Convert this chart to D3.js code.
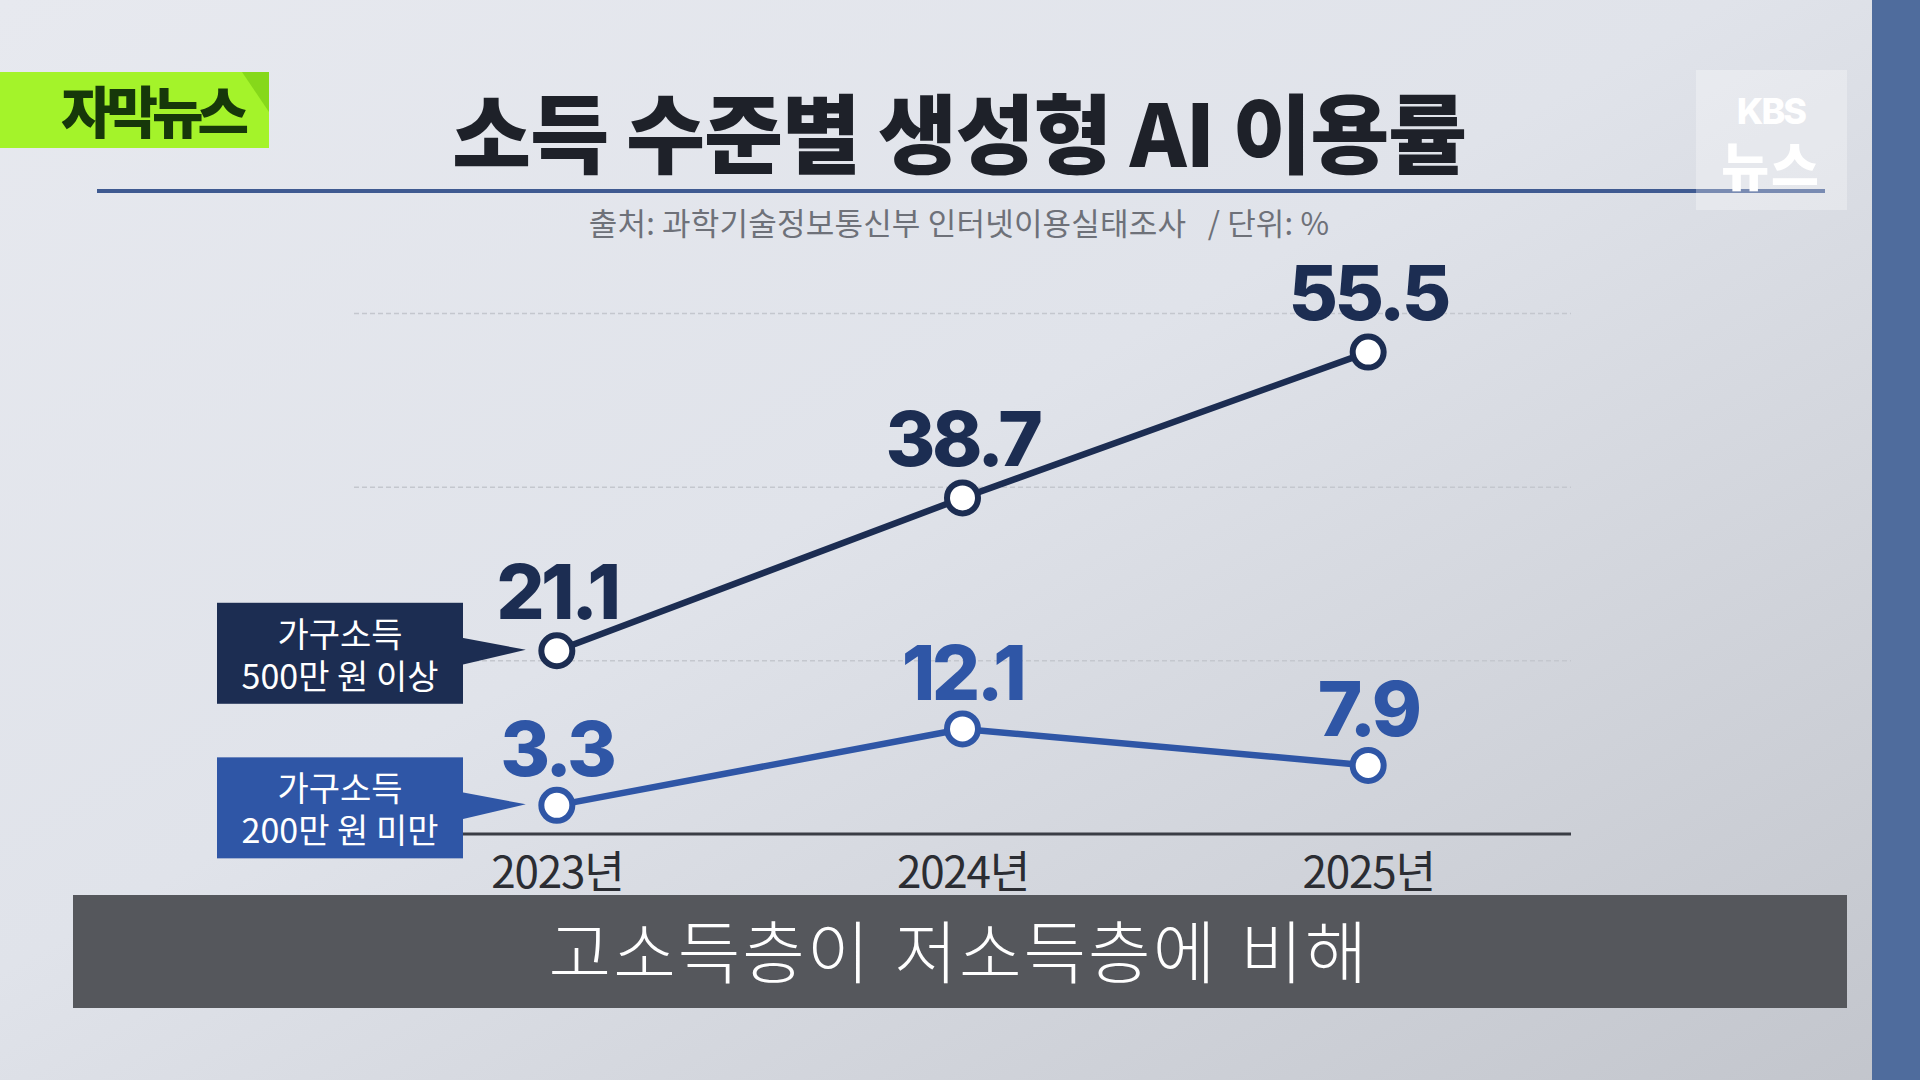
<!DOCTYPE html>
<html>
<head>
<meta charset="utf-8">
<script src="https://cdn.jsdelivr.net/npm/d3@7"></script>
<style>
  html, body { margin: 0; padding: 0; overflow: hidden; }
  body { width: 1920px; height: 1080px; }
  svg { display: block; }
</style>
</head>
<body>
<svg id="chart" width="1920" height="1080"></svg>
<script>
// chart data
const years = ['2023년', '2024년', '2025년']
const highIncome = [21.1, 38.7, 55.5]   // 가구소득 500만 원 이상
const lowIncome = [3.3, 12.1, 7.9]      // 가구소득 200만 원 미만
const gridValues = [20, 40, 60]
const seriesNames = [['가구소득', '500만 원 이상'], ['가구소득', '200만 원 미만']]

const titleText = '소득 수준별 생성형 AI 이용률'
const sourceText = '출처: 과학기술정보통신부 인터넷이용실태조사   / 단위: %'
const captionText = '고소득층이 저소득층에 비해'

const navy = '#1c2d52'
const blue = '#2f56a6'
const kr = '"Noto Sans CJK KR", "Noto Sans", sans-serif'

const svg = d3.select('#chart')

// background
const defs = svg.append('defs')
const bg = defs.append('linearGradient')
  .attr('id', 'bg')
  .attr('x1', '0').attr('y1', '0')
  .attr('x2', '1').attr('y2', '1')
bg.append('stop').attr('offset', '0%').attr('stop-color', '#e7e9ef')
bg.append('stop').attr('offset', '45%').attr('stop-color', '#e0e3ea')
bg.append('stop').attr('offset', '100%').attr('stop-color', '#c2c5cc')

svg.append('rect')
  .attr('width', 1920).attr('height', 1080)
  .attr('fill', 'url(#bg)')

svg.append('rect')
  .attr('x', 1872).attr('y', 0)
  .attr('width', 48).attr('height', 1080)
  .attr('fill', '#4f6c9d')

// 자막뉴스 badge
svg.append('rect')
  .attr('x', 0).attr('y', 72)
  .attr('width', 269).attr('height', 76)
  .attr('fill', '#a4f32a')
svg.append('polygon')
  .attr('points', '242,72 269,72 269,112')
  .attr('fill', '#86d81a')
svg.append('text')
  .attr('x', 152).attr('y', 133)
  .attr('text-anchor', 'middle')
  .attr('font-family', kr)
  .attr('font-weight', 900)
  .attr('font-size', 56)
  .attr('letter-spacing', -6)
  .attr('fill', '#16380a')
  .text('자막뉴스')

// title
svg.append('text')
  .attr('x', 959).attr('y', 167)
  .attr('text-anchor', 'middle')
  .attr('font-family', kr)
  .attr('font-weight', 900)
  .attr('font-size', 86)
  .attr('letter-spacing', -1.3)
  .attr('fill', '#1e2129')
  .text(titleText)

svg.append('rect')
  .attr('x', 97).attr('y', 189)
  .attr('width', 1728).attr('height', 4)
  .attr('fill', '#3f5a91')

// KBS logo
svg.append('rect')
  .attr('x', 1696).attr('y', 70)
  .attr('width', 151).attr('height', 140)
  .attr('fill', '#ffffff')
  .attr('opacity', 0.3)
const logo = svg.append('text')
  .attr('text-anchor', 'middle')
  .attr('fill', '#ffffff')
logo.append('tspan')
  .attr('x', 1771).attr('y', 124)
  .attr('font-family', 'Inter, sans-serif')
  .attr('font-weight', 800)
  .attr('font-size', 36)
  .attr('letter-spacing', -2)
  .text('KBS')
logo.append('tspan')
  .attr('x', 1771).attr('y', 186)
  .attr('font-family', kr)
  .attr('font-weight', 900)
  .attr('font-size', 52)
  .attr('letter-spacing', 2)
  .text('뉴스')

// source line
svg.append('text')
  .attr('x', 959).attr('y', 235)
  .attr('text-anchor', 'middle')
  .attr('font-family', kr)
  .attr('font-size', 31)
  .attr('letter-spacing', 0.2)
  .attr('fill', '#6e7179')
  .style('white-space', 'pre')
  .text(sourceText)

// scales
const x = d3.scalePoint()
  .domain(years)
  .range([354, 1571])
  .padding(0.5)

const y = d3.scaleLinear()
  .domain([0, 60])
  .range([834, 313])

// grid
const grid = svg.append('g')
  .attr('transform', 'translate(354,0)')
  .call(d3.axisLeft(y).tickValues(gridValues).tickSize(-1217).tickFormat(''))
grid.select('.domain').remove()
grid.selectAll('.tick line')
  .attr('stroke', '#c4c7ce')
  .attr('stroke-width', 1.5)
  .attr('stroke-dasharray', '5,3')

// x axis
const xAxis = svg.append('g')
  .attr('transform', 'translate(0,834)')
  .call(d3.axisBottom(x).tickSize(0).tickPadding(54))
xAxis.select('.domain')
  .attr('stroke', '#3a3d45')
  .attr('stroke-width', 3)
  .attr('d', 'M354,0H1571')
xAxis.selectAll('.tick text')
  .attr('font-family', kr)
  .attr('font-size', 44)
  .attr('letter-spacing', -1.2)
  .attr('fill', '#2b2d33')
  .attr('dy', 0)

// series
const series = [
  { values: highIncome, color: navy, labelOffset: -32, name: seriesNames[0] },
  { values: lowIncome, color: blue, labelOffset: -29, name: seriesNames[1] }
]

const line = d3.line()
  .x((d, i) => x(years[i]))
  .y(d => y(d))

series.forEach(s => {
  svg.append('path')
    .datum(s.values)
    .attr('d', line)
    .attr('fill', 'none')
    .attr('stroke', s.color)
    .attr('stroke-width', 6.5)
    .attr('stroke-linejoin', 'round')

  svg.selectAll(null)
    .data(s.values)
    .enter().append('circle')
    .attr('cx', (d, i) => x(years[i]))
    .attr('cy', d => y(d))
    .attr('r', 15.5)
    .attr('fill', '#ffffff')
    .attr('stroke', s.color)
    .attr('stroke-width', 6)

  svg.selectAll(null)
    .data(s.values)
    .enter().append('text')
    .attr('x', (d, i) => x(years[i]))
    .attr('y', d => y(d) + s.labelOffset)
    .attr('text-anchor', 'middle')
    .attr('font-family', 'Inter, "Noto Sans", sans-serif')
    .attr('font-weight', 800)
    .attr('font-size', 76)
    .attr('letter-spacing', -3.5)
    .attr('fill', s.color)
    .text(d => d.toFixed(1))
})

// series callouts, pointing at the 2023 point
series.forEach(s => {
  const tipX = x(years[0]) - 31
  const tipY = y(s.values[0]) - 1
  const boxTop = tipY - 47
  const g = svg.append('g')

  g.append('polygon')
    .attr('points', [[462, tipY - 12], [tipX, tipY], [462, tipY + 15]].map(p => p.join(',')).join(' '))
    .attr('fill', s.color)
  g.append('rect')
    .attr('x', 217).attr('y', boxTop)
    .attr('width', 246).attr('height', 101)
    .attr('fill', s.color)
  g.append('text')
    .attr('text-anchor', 'middle')
    .attr('font-family', kr)
    .attr('font-size', 34)
    .attr('fill', '#ffffff')
    .selectAll('tspan')
    .data(s.name)
    .enter().append('tspan')
    .attr('x', 340)
    .attr('y', (d, i) => boxTop + 44 + i * 42)
    .text(d => d)
})

// subtitle caption
svg.append('rect')
  .attr('x', 73).attr('y', 895)
  .attr('width', 1774).attr('height', 113)
  .attr('fill', '#55575c')
svg.append('text')
  .attr('x', 959).attr('y', 978)
  .attr('text-anchor', 'middle')
  .attr('font-family', kr)
  .attr('font-weight', 300)
  .attr('font-size', 68)
  .attr('letter-spacing', 2)
  .attr('word-spacing', 6)
  .attr('fill', '#ffffff')
  .text(captionText)
</script>
</body>
</html>
